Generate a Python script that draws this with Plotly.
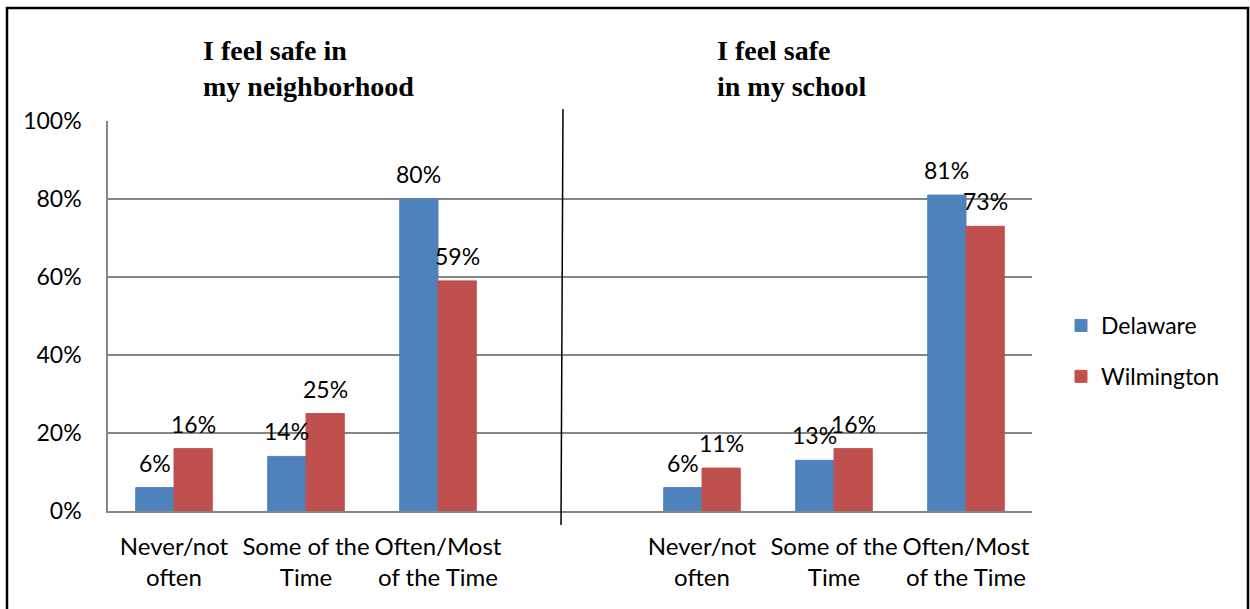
import plotly.graph_objects as go

# ---- data ----
categories = ["Never/not<br>often", "Some of the<br>Time", "Often/Most<br>of the Time"]
series_names = ["Delaware", "Wilmington"]
neighborhood_delaware = [6, 14, 80]
neighborhood_wilmington = [16, 25, 59]
school_delaware = [6, 13, 81]
school_wilmington = [11, 16, 73]
panel_titles = ["I feel safe in<br>my neighborhood", "I feel safe<br>in my school"]
y_ticks = [0, 20, 40, 60, 80, 100]

colors = {"Delaware": "#4F81BD", "Wilmington": "#C0504D"}
FONT = "Lato"
BARGAP = 0.42

# slot positions: left group 0..2, empty slot 3, right group 4..6
left_slots = list(range(len(categories)))
right_slots = [len(categories) + 1 + i for i in range(len(categories))]
x_all = left_slots + right_slots
tick_text = categories + categories

vals = {
    "Delaware": neighborhood_delaware + school_delaware,
    "Wilmington": neighborhood_wilmington + school_wilmington,
}

fig = go.Figure()
for name in series_names:
    fig.add_trace(go.Bar(
        x=x_all, y=vals[name], name=name, legendgroup=name,
        marker=dict(color=colors[name], line=dict(color=colors[name], width=1)),
    ))

# data labels above each bar (bar centres offset within each group)
bar_w = (1 - BARGAP) / len(series_names)
annotations = []
for k, name in enumerate(series_names):
    off = (k - (len(series_names) - 1) / 2) * bar_w
    for xs, v in zip(x_all, vals[name]):
        annotations.append(dict(
            x=xs + off, y=v, xref="x", yref="y", text=f"{v}%", showarrow=False,
            xanchor="center", yanchor="bottom", yshift=9,
            font=dict(family=FONT, size=23, color="black"),
        ))

W, H = 1250, 609
L, R, T, B = 108, 1032, 121, 511

def px(x):
    return (x - L) / (R - L)

def py(y):
    return (B - y) / (B - T)

shapes = [
    # outer border
    dict(type="rect", xref="paper", yref="paper", x0=px(7), x1=px(1248), y0=py(8), y1=py(640),
         line=dict(color="black", width=2.5)),
    # divider line
    dict(type="line", xref="paper", yref="paper", x0=px(563), x1=px(561), y0=py(109), y1=py(525),
         line=dict(color="black", width=1.5)),
]

annotations += [
    dict(text=panel_titles[0], xref="paper", yref="paper", x=px(201), y=py(68), xanchor="left",
         yanchor="middle", align="left", showarrow=False,
         font=dict(family="Liberation Serif", size=28, color="black", weight="bold")),
    dict(text=panel_titles[1], xref="paper", yref="paper", x=px(715), y=py(68), xanchor="left",
         yanchor="middle", align="left", showarrow=False,
         font=dict(family="Liberation Serif", size=28, color="black", weight="bold")),
]

fig.update_layout(
    width=W, height=H,
    margin=dict(l=L, r=W - R, t=T, b=H - B, pad=0),
    paper_bgcolor="white", plot_bgcolor="white",
    barmode="group", bargap=BARGAP, bargroupgap=0,
    font=dict(family=FONT, size=23, color="black"),
    showlegend=True,
    legend=dict(x=px(1061), y=py(351), xanchor="left", yanchor="middle",
                font=dict(family=FONT, size=23, color="black"),
                tracegroupgap=18, bgcolor="rgba(0,0,0,0)"),
    xaxis=dict(range=[-0.5, 6.5], tickmode="array", tickvals=x_all, ticktext=tick_text,
               showgrid=False, zeroline=False, showline=True, linecolor="#868686", linewidth=1.5,
               ticks="", ticklabelstandoff=13, tickfont=dict(family=FONT, size=24, color="black"),
               fixedrange=True),
    yaxis=dict(range=[0, 100], tickmode="array", tickvals=y_ticks,
               ticktext=[f"{t}%" for t in y_ticks],
               showgrid=True, gridcolor="#868686", gridwidth=1.5, zeroline=False,
               showline=True, linecolor="#868686", linewidth=1.5, ticks="",
               ticklabelstandoff=20, tickfont=dict(family=FONT, size=23, color="black"),
               fixedrange=True),
    shapes=shapes, annotations=annotations,
)

fig.write_html("out.html", config={"displayModeBar": False},
               post_script="document.body.style.margin='0';document.body.style.overflow='hidden';")
